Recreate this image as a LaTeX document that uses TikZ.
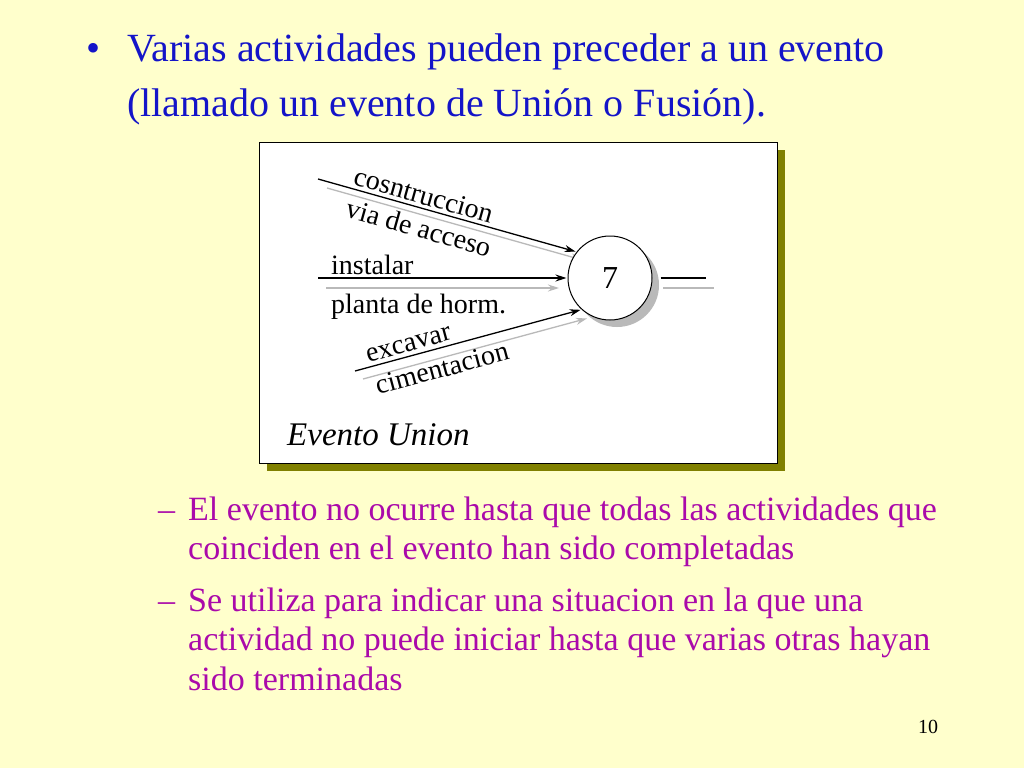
\documentclass[tikz,border=0pt]{standalone}
\usepackage{fontspec}
\setmainfont{Liberation Serif}
\usetikzlibrary{arrows.meta,calc,shadows}
\definecolor{slidebg}{RGB}{255,255,204}
\definecolor{headblue}{RGB}{20,20,200}
\definecolor{subpink}{RGB}{170,10,170}
\definecolor{boxshadow}{RGB}{128,128,0}

\begin{document}
\begin{tikzpicture}[x=1pt,y=-1pt,
	headline/.style={anchor=base west,inner sep=0pt,text=headblue,font=\fontsize{40}{48}\selectfont},
	subline/.style={anchor=base west,inner sep=0pt,text=subpink,font=\fontsize{34}{40}\selectfont},
	actlbl/.style={inner sep=1pt,font=\fontsize{28}{32}\selectfont},
	actarrow/.style={line width=1.3pt,-{Stealth[length=11pt,width=7pt]},shorten >=1pt},
	actshadow/.style={actarrow,draw=gray!55}]
\useasboundingbox (0,0) rectangle (1024,768);
\fill[slidebg] (0,0) rectangle (1024,768);

% title
\node[headline] (bul) at (86,61) {\textbullet};
\node[headline] (t1) at (127,61) {Varias actividades pueden preceder a un evento};
\node[headline] (t2) at (127,116) {(llamado un evento de Unión o Fusión).};

% figure box
\fill[boxshadow] (267,150) rectangle (785,471);
\draw[fill=white,line width=0.8pt] (259,142) rectangle (777,463);

\coordinate (ctr) at (610,278);
\coordinate (a1) at (318,179);
\coordinate (a2) at (318,278);
\coordinate (a3) at (355,371);
\coordinate (out) at (706,278);

% shadows of the activities
\draw[actshadow] ($(a1)+(9,9)$) -- ($(ctr)+(142:42pt)+(6,8)$);
\draw[actshadow] ($(a2)+(8,10)$) -- (560,288);
\draw[actshadow] ($(a3)+(8,8)$) -- ($(ctr)+(228:42pt)+(6,9)$);
\draw[line width=1.3pt,gray!55] (663,288) -- ($(out)+(8,10)$);

\node[circle,draw,line width=1pt,fill=white,minimum size=84pt,inner sep=0pt,
	drop shadow={shadow xshift=7pt,shadow yshift=-7pt,fill=gray!55,opacity=1},
	font=\fontsize{32}{38}\selectfont] (ev) at (ctr) {7};

\draw[actarrow] (a1) -- node[actlbl,sloped,above=2pt,pos=.395] {cosntruccion}
	node[actlbl,sloped,below=8pt,pos=.41] {via de acceso} (ev.142);
\draw[actarrow] (a2) -- node[actlbl,pos=.05,anchor=south west,inner sep=0pt,yshift=3pt] {instalar}
	node[actlbl,pos=.05,anchor=north west,inner sep=0pt,yshift=-15pt] {planta de horm.} (ev.west);
\draw[actarrow] (a3) -- node[actlbl,sloped,above=3pt,pos=.25] {excavar}
	node[actlbl,sloped,below=9pt,pos=.36] {cimentacion} (ev.228);
\draw[line width=1.3pt] ([xshift=8pt]ev.east) -- (out);

\node[anchor=base west,inner sep=0pt,font=\fontsize{33}{38}\selectfont\itshape] (union) at (287,445) {Evento Union};

% sub items
\node[subline] (d1) at (158,520) {–};
\node[subline] (s1) at (188,520) {El evento no ocurre hasta que todas las actividades que};
\node[subline] (s1b) at (188,559) {coinciden en el evento han sido completadas};
\node[subline] (d2) at (158,611) {–};
\node[subline] (s2) at (188,611) {Se utiliza para indicar una situacion en la que una};
\node[subline] (s2b) at (188,650) {actividad no puede iniciar hasta que varias otras hayan};
\node[subline] (s2c) at (188,690) {sido terminadas};

\node[anchor=base west,inner sep=0pt,font=\fontsize{20}{24}\selectfont] (pg) at (918,733) {10};
\end{tikzpicture}
\end{document}
